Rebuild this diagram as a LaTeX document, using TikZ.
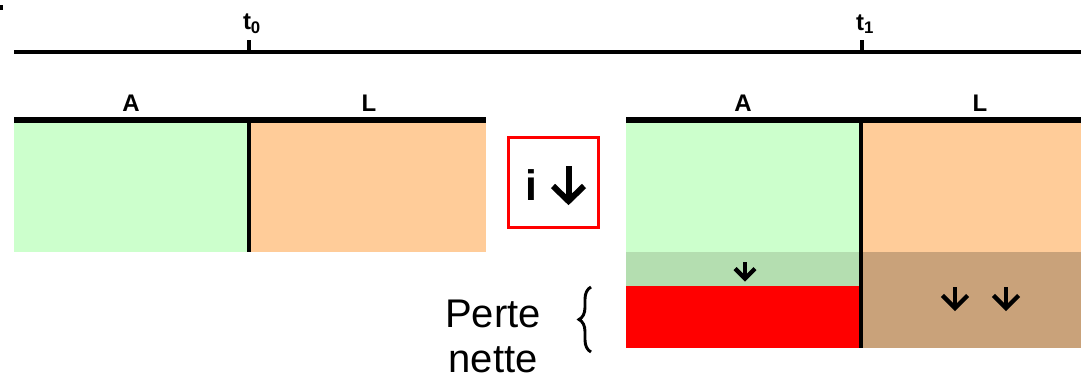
\documentclass[tikz,border=0pt]{standalone}
\usepackage{fontspec}
\setmainfont{Liberation Sans}
\usetikzlibrary{decorations.pathreplacing}
\definecolor{asset}{HTML}{CCFFCC}
\definecolor{liab}{HTML}{FFCC99}
\definecolor{assetloss}{HTML}{B4DEB0}
\definecolor{liabloss}{HTML}{C9A27A}
\tikzset{
  hdr/.style={font=\fontsize{18}{20}\selectfont\bfseries, inner sep=0pt},
  bigtxt/.style={font=\fontsize{30}{36}\selectfont, inner sep=0pt, anchor=base},
  downarr/.style={line width=3.2pt, line cap=butt, line join=miter},
  axisline/.style={line width=2.5pt},
  capline/.style={line width=5pt},
  divider/.style={line width=2.5pt},
}
\newcommand{\downmark}[3]{% centre x, top y, size
  \draw[downarr] (#1,#2) -- (#1,#2+#3*1.5);
  \draw[downarr] (#1-#3*0.9,#2+#3*0.6) -- (#1,#2+#3*1.5) -- (#1+#3*0.9,#2+#3*0.6);
}
\begin{document}
\begin{tikzpicture}[x=0.75pt,y=-0.75pt]
\useasboundingbox (0,0) rectangle (1081,379);

% stray mark in the corner
\fill (0,5) rectangle (3,10);

% time axis
\draw[axisline] (14,52) -- (1081,52);
\draw[axisline] (249,40) -- (249,52);
\draw[axisline] (862,40) -- (862,52);
\node[hdr] (t0) at (252,24) {t\textsubscript{0}};
\node[hdr] (t1) at (865,24) {t\textsubscript{1}};

% balance sheet at t0
\fill[asset] (14,121) rectangle (249,252);
\fill[liab] (249,121) rectangle (486,252);
\draw[divider] (249,121) -- (249,252);
\draw[capline] (14,120) -- (486,120);
\node[hdr] (a0) at (131,103) {A};
\node[hdr] (l0) at (369,103) {L};

% interest-rate drop
\node[draw=red, line width=2.5pt, minimum width=67.5pt, minimum height=67.5pt, inner sep=0pt] (rate) at (553.5,182.5) {};
\node[font=\fontsize{32}{36}\selectfont\bfseries, inner sep=0pt, anchor=base] (i) at (531,200) {i};
\draw[line width=4.5pt] (568.5,166) -- (568.5,201);
\draw[line width=4.5pt, line join=miter] (553,186) -- (568.5,201) -- (584,186);

% balance sheet at t1
\fill[asset] (626,121) rectangle (861,252);
\fill[assetloss] (626,252) rectangle (861,286);
\fill[red] (626,286) rectangle (861,348);
\fill[liab] (861,121) rectangle (1081,252);
\fill[liabloss] (861,252) rectangle (1081,348);
\draw[divider] (861,121) -- (861,348);
\draw[capline] (626,120) -- (1081,120);
\node[hdr] (a1) at (743,103) {A};
\node[hdr] (l1) at (980,103) {L};

% value changes
\downmark{745}{262}{11}
\downmark{955}{287}{14}
\downmark{1006}{287}{14}

% net loss label
\node[bigtxt] (perte) at (493,327) {Perte};
\node[bigtxt] (nette) at (493,372) {nette};
\coordinate (bt) at (591,287);
\coordinate (bb) at (591,352);
\draw[line width=2.2pt, decorate, decoration={brace, amplitude=9pt}] (bb) -- (bt);
\end{tikzpicture}
\end{document}
